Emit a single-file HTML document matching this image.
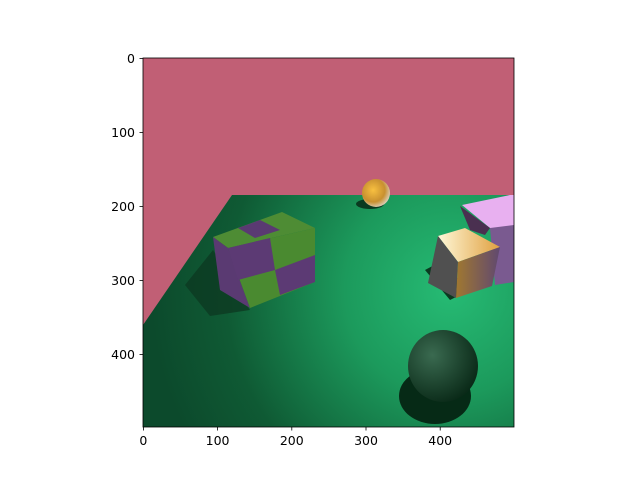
<!DOCTYPE html>
<html><head><meta charset="utf-8"><style>
body{margin:0;background:#fff}
svg text{font-family:"DejaVu Sans","Liberation Sans",sans-serif;font-size:12.5px;fill:#000}
</style></head><body>
<svg width="640" height="480" viewBox="0 0 640 480">
<defs>
<clipPath id="ax"><rect x="143" y="58" width="371" height="369"/></clipPath>
<radialGradient id="floorG" cx="450" cy="290" r="300" gradientUnits="userSpaceOnUse">
<stop offset="0" stop-color="#26bb74"/><stop offset="0.35" stop-color="#1c9a5c"/><stop offset="0.75" stop-color="#0f5a34"/><stop offset="1" stop-color="#0c4a2c"/></radialGradient>
<radialGradient id="ballG" cx="0.35" cy="0.35" r="0.7"><stop offset="0" stop-color="#3a6a50"/><stop offset="1" stop-color="#0a2a18"/></radialGradient>
<radialGradient id="smallG" cx="0.4" cy="0.4" r="0.7"><stop offset="0" stop-color="#f8c040"/><stop offset="0.6" stop-color="#c89030"/><stop offset="1" stop-color="#e0e0e0"/></radialGradient>
<linearGradient id="grayTop" x1="0" y1="0" x2="1" y2="0"><stop offset="0" stop-color="#fff8d8"/><stop offset="1" stop-color="#e0a040"/></linearGradient>
<linearGradient id="grayR" x1="0" y1="0" x2="1" y2="0"><stop offset="0" stop-color="#a07830"/><stop offset="1" stop-color="#604870"/></linearGradient>
</defs>
<g clip-path="url(#ax)">
<rect x="143" y="58" width="371" height="369" fill="#c15f75"/>
<polygon points="232,195 514,195 514,427 143,427 143,325" fill="url(#floorG)"/>
<polygon points="185,285 213,250 250,310 210,316" fill="#0c3a22" opacity="0.8"/>
<g>
<polygon points="213,237 282,212 315,228 228,248" fill="#4e8c34"/>
<polygon points="238,228 260,220 280,230 255,238" fill="#5a3a72"/>
<polygon points="213,237 228,248 250,308 220,290" fill="#5a3a72"/>
<polygon points="228,248 315,228 315,282 250,308" fill="#4a8a30"/>
<polygon points="228,248 270,238 275,270 238,280" fill="#5c3a74"/>
<polygon points="275,270 315,255 315,282 280,295" fill="#5c3a74"/>
</g>
<ellipse cx="370" cy="204" rx="14" ry="5" fill="#0a3a20"/>
<circle cx="376" cy="193" r="14" fill="url(#smallG)"/>
<polygon points="425,270 450,300 470,290 440,262" fill="#0a3a20"/>
<g>
<polygon points="462,205 510,195 514,195 514,228 490,228" fill="#e8b0f0"/>
<polygon points="460,206 490,228 485,235 470,230" fill="#4a3050"/>
<polygon points="490,228 514,225 514,282 495,285" fill="#7a5a90"/>
</g>
<g>
<polygon points="438,236 465,228 500,247 458,262" fill="url(#grayTop)"/>
<polygon points="438,236 458,262 456,298 428,283" fill="#505050"/>
<polygon points="458,262 500,247 492,286 456,298" fill="url(#grayR)"/>
</g>
<ellipse cx="435" cy="396" rx="36" ry="28" fill="#062a16"/>
<ellipse cx="443" cy="366" rx="35" ry="36" fill="url(#ballG)"/>
</g>
<rect x="143" y="58" width="371" height="369" fill="none" stroke="#000" stroke-width="0.8"/>
<g stroke="#000" stroke-width="0.8">
<line x1="143.4" y1="427" x2="143.4" y2="430.5"/><line x1="217.6" y1="427" x2="217.6" y2="430.5"/><line x1="291.8" y1="427" x2="291.8" y2="430.5"/><line x1="366" y1="427" x2="366" y2="430.5"/><line x1="440.2" y1="427" x2="440.2" y2="430.5"/>
</g>
<g text-anchor="middle">
<text x="143.4" y="445">0</text><text x="217.6" y="445">100</text><text x="291.8" y="445">200</text><text x="366" y="445">300</text><text x="440.2" y="445">400</text>
</g>
<g stroke="#000" stroke-width="0.8">
<line x1="139.5" y1="58.4" x2="143" y2="58.4"/><line x1="139.5" y1="132.4" x2="143" y2="132.4"/><line x1="139.5" y1="206.4" x2="143" y2="206.4"/><line x1="139.5" y1="280.4" x2="143" y2="280.4"/><line x1="139.5" y1="354.4" x2="143" y2="354.4"/>
</g>
<g text-anchor="end">
<text x="135" y="63">0</text><text x="135" y="137">100</text><text x="135" y="211">200</text><text x="135" y="285">300</text><text x="135" y="359">400</text>
</g>
</svg>
</body></html>
